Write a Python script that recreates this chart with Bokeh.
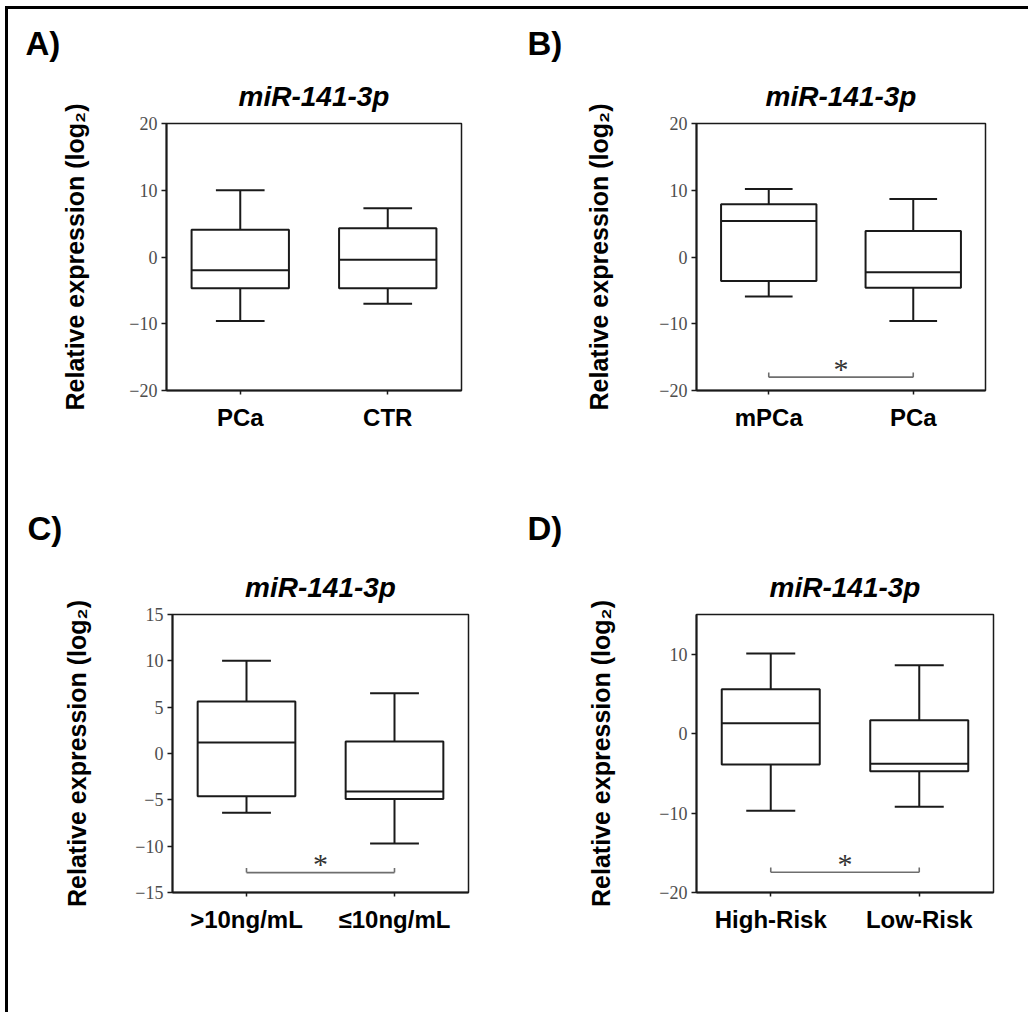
from bokeh.plotting import figure
from bokeh.models import ColumnDataSource, FactorRange, Range1d, FixedTicker, Title
from bokeh.layouts import column, row
from bokeh.transform import dodge
from bokeh.embed import file_html
from bokeh.resources import INLINE

# ---------------- data ----------------
A_cats = ["PCa", "CTR"]
A_hi = [10.0, 7.3]
A_q3 = [4.1, 4.3]
A_med = [-2.0, -0.4]
A_q1 = [-4.7, -4.7]
A_lo = [-9.6, -7.0]

B_cats = ["mPCa", "PCa"]
B_hi = [10.2, 8.7]
B_q3 = [7.9, 3.9]
B_med = [5.4, -2.3]
B_q1 = [-3.6, -4.6]
B_lo = [-5.9, -9.6]
B_sig = -18.0

C_cats = [">10ng/mL", "\u226410ng/mL"]
C_hi = [10.0, 6.5]
C_q3 = [5.6, 1.3]
C_med = [1.2, -4.1]
C_q1 = [-4.6, -4.9]
C_lo = [-6.4, -9.7]
C_sig = -12.85

D_cats = ["High-Risk", "Low-Risk"]
D_hi = [10.1, 8.6]
D_q3 = [5.6, 1.7]
D_med = [1.3, -3.8]
D_q1 = [-3.9, -4.75]
D_lo = [-9.7, -9.2]
D_sig = -17.45

AB_yticks = [-20, -10, 0, 10, 20]
C_yticks = [-15, -10, -5, 0, 5, 10, 15]
D_yticks = [-20, -10, 0, 10]

TITLE = "miR-141-3p"
YLABEL = "Relative expression (log\u2082)"

INK = "#1a1a1a"
SANS = "Liberation Sans"
SERIF = "Liberation Serif"


def make_panel(letter, cats, hi, q3, med, q1, lo, ylo, yhi, yticks,
               width, height, mb, letter_offset, letter_standoff,
               ylabel_standoff, sig=None, sig_tick=0.6):
    p = figure(
        width=width, height=height,
        x_range=FactorRange(*cats), y_range=Range1d(ylo, yhi),
        output_backend="svg", toolbar_location=None, tools="",
        min_border_left=mb[0], min_border_right=mb[1],
        min_border_top=mb[2], min_border_bottom=mb[3],
        background_fill_color=None, border_fill_color=None,
    )
    p.xgrid.visible = False
    p.ygrid.visible = False
    p.outline_line_color = INK
    p.outline_line_width = 1.5
    p.outline_line_alpha = 1.0

    # y axis
    yax = p.yaxis[0]
    yax.ticker = FixedTicker(ticks=yticks)
    yax.axis_line_color = INK
    yax.axis_line_width = 2
    yax.major_tick_line_color = INK
    yax.major_tick_line_width = 1.5
    yax.major_tick_in = 0
    yax.major_tick_out = 5
    yax.minor_tick_line_color = None
    yax.major_label_text_font = SERIF
    yax.major_label_text_font_size = "18px"
    yax.major_label_text_color = "#4d4d4d"
    yax.major_label_standoff = 4
    yax.axis_label = YLABEL
    yax.axis_label_text_font = SANS
    yax.axis_label_text_font_style = "bold"
    yax.axis_label_text_font_size = "25px"
    yax.axis_label_text_color = "#000000"
    yax.axis_label_standoff = ylabel_standoff

    # x axis
    xax = p.xaxis[0]
    xax.axis_line_color = INK
    xax.axis_line_width = 2
    xax.major_tick_line_color = INK
    xax.major_tick_line_width = 1.5
    xax.major_tick_in = 0
    xax.major_tick_out = 4
    xax.minor_tick_line_color = None
    xax.major_label_text_font = SANS
    xax.major_label_text_font_style = "bold"
    xax.major_label_text_font_size = "24px"
    xax.major_label_text_color = "#000000"
    xax.major_label_standoff = 9

    src = ColumnDataSource(dict(cat=cats, hi=hi, q3=q3, med=med, q1=q1, lo=lo))
    xr = p.x_range
    # whisker stems
    p.segment(x0="cat", x1="cat", y0="q3", y1="hi", source=src,
              line_color=INK, line_width=2)
    p.segment(x0="cat", x1="cat", y0="q1", y1="lo", source=src,
              line_color=INK, line_width=2)
    # whisker caps
    p.segment(x0=dodge("cat", -0.165, range=xr), x1=dodge("cat", 0.165, range=xr),
              y0="hi", y1="hi", source=src, line_color=INK, line_width=2)
    p.segment(x0=dodge("cat", -0.165, range=xr), x1=dodge("cat", 0.165, range=xr),
              y0="lo", y1="lo", source=src, line_color=INK, line_width=2)
    # boxes
    p.vbar(x="cat", top="q3", bottom="q1", width=0.66, source=src,
           fill_color="white", line_color=INK, line_width=2)
    # medians
    p.segment(x0=dodge("cat", -0.33, range=xr), x1=dodge("cat", 0.33, range=xr),
              y0="med", y1="med", source=src, line_color=INK, line_width=2)

    if sig is not None:
        bsrc = ColumnDataSource(dict(cat=cats, y=[sig, sig], yt=[sig + sig_tick, sig + sig_tick]))
        p.segment(x0=[cats[0]], x1=[cats[1]], y0=[sig], y1=[sig],
                  line_color="#6e6e6e", line_width=1.6)
        p.segment(x0="cat", x1="cat", y0="y", y1="yt", source=bsrc,
                  line_color="#6e6e6e", line_width=1.6)
        ssrc = ColumnDataSource(dict(cat=[cats[0]], y=[sig], t=["*"]))
        p.text(x=dodge("cat", 0.5, range=xr), y="y", text="t", source=ssrc,
               text_align="center", text_baseline="alphabetic", y_offset=-9,
               text_font={"value": SERIF}, text_font_size={"value": "30px"},
               text_color="#333333")

    t1 = Title(text=TITLE, align="center", text_font=SANS,
               text_font_style="bold italic", text_font_size="28px",
               text_color="#000000", standoff=24)
    p.add_layout(t1, "above")
    t2 = Title(text=letter, align="left", offset=letter_offset, text_font=SANS,
               text_font_style="bold", text_font_size="33px",
               text_color="#000000", standoff=letter_standoff)
    p.add_layout(t2, "above")
    return p


pA = make_panel("A)", A_cats, A_hi, A_q3, A_med, A_q1, A_lo, -20, 20, AB_yticks,
                514, 455, (166, 514 - 461, 123, 455 - 397), -141, 10, 37)
pB = make_panel("B)", B_cats, B_hi, B_q3, B_med, B_q1, B_lo, -20, 20, AB_yticks,
                514, 455, (696 - 514, 1028 - 985, 123, 455 - 390), -169, 10, 43,
                sig=B_sig, sig_tick=0.7)
pC = make_panel("C)", C_cats, C_hi, C_q3, C_med, C_q1, C_lo, -15, 15, C_yticks,
                514, 557, (172, 514 - 468, 614 - 455, 1012 - 892), -145, 22, 41,
                sig=C_sig, sig_tick=0.5)
pD = make_panel("D)", D_cats, D_hi, D_q3, D_med, D_q1, D_lo, -20, 15, D_yticks,
                514, 557, (696 - 514, 1028 - 993, 614 - 455, 1012 - 892), -169, 22, 41,
                sig=D_sig, sig_tick=0.6)

frame_bg = ("linear-gradient(#000,#000) 5px 6px / 1023px 3px no-repeat, "
            "linear-gradient(#000,#000) 5px 6px / 3px 1006px no-repeat, #ffffff")
layout = column(row(pA, pB), row(pC, pD), styles={"background": frame_bg})

open("out.html", "w").write(file_html(layout, INLINE))
